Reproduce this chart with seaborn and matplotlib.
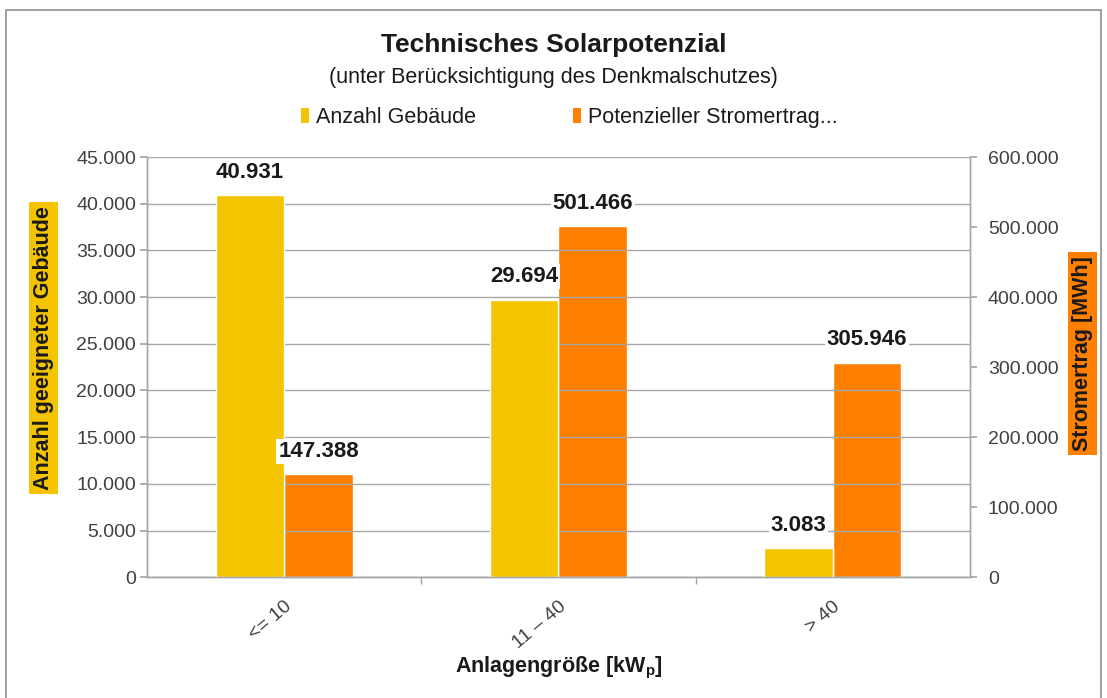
import numpy as np
import matplotlib
matplotlib.use("Agg")
import matplotlib.pyplot as plt
from matplotlib.patches import Rectangle, Patch
import pandas as pd
import seaborn as sns

categories = ["<= 10", "11 – 40", "> 40"]
anzahl_gebaeude = [40931, 29694, 3083]
stromertrag = [147388, 501466, 305946]
series = ["Anzahl Gebäude", "Potenzieller Stromertrag..."]

yellow = "#F5C400"
orange = "#FF8000"
grid_col = "#A6A6A6"
txt_col = "#404040"

sns.set_theme(style="white")
plt.rcParams["font.family"] = ["Liberation Sans", "DejaVu Sans"]
plt.rcParams["mathtext.default"] = "regular"


def fmt(v):
    return f"{v:,.0f}".replace(",", ".")


df = pd.DataFrame({
    "Kategorie": categories * 2,
    "Wert": anzahl_gebaeude + stromertrag,
    "Serie": [series[0]] * 3 + [series[1]] * 3,
})

fig = plt.figure(figsize=(11.07, 6.98), dpi=100)
ax = fig.add_axes([0.133, 0.173, 0.743, 0.602])
ax2 = ax.twinx()

palette = {series[0]: yellow, series[1]: orange}
for a, s in ((ax, series[0]), (ax2, series[1])):
    sns.barplot(data=df[df["Serie"] == s], x="Kategorie", y="Wert", hue="Serie",
                hue_order=series, order=categories, palette=palette, width=0.5,
                dodge=True, saturation=1, ax=a, legend=False,
                edgecolor="white", linewidth=1)

ax.set_ylim(0, 45000)
ax2.set_ylim(0, 600000)
ax.set_xlim(-0.5, 2.5)
ax.set_yticks(np.arange(0, 45001, 5000))
ax2.set_yticks(np.arange(0, 600001, 100000))
ax.set_yticklabels([fmt(v) for v in ax.get_yticks()], color=txt_col, fontsize=14)
ax2.set_yticklabels([fmt(v) for v in ax2.get_yticks()], color=txt_col, fontsize=14)

ax.grid(axis="y", color=grid_col, linewidth=1)
ax.set_axisbelow(True)
ax2.grid(False)
ax.set_zorder(ax2.get_zorder() + 1)
ax.patch.set_visible(False)

for a in (ax, ax2):
    for s in ["left", "right", "bottom"]:
        a.spines[s].set_color(grid_col)
        a.spines[s].set_linewidth(1)
    a.spines["top"].set_visible(False)
ax.tick_params(axis="y", left=True, length=5, color=grid_col, pad=3)
ax2.tick_params(axis="y", right=True, length=5, color=grid_col, pad=8)

ax.set_xticks(range(3))
ax.set_xticklabels(categories, rotation=40, ha="right", rotation_mode="anchor",
                   fontsize=14, color=txt_col)
ax.tick_params(axis="x", bottom=False, pad=9)
ax.set_xticks([0.5, 1.5], minor=True)
ax.tick_params(axis="x", which="minor", bottom=True, length=5, color=grid_col)

ax.set_xlabel("Anlagengröße [kW$_p$]", fontsize=15.5, fontweight="bold",
              labelpad=2, color="#1a1a1a")
ax.set_ylabel("Anzahl geeigneter Gebäude", fontsize=15.5, fontweight="bold",
              color="#1a1a1a", bbox=dict(facecolor=yellow, edgecolor="none", pad=3))
ax2.set_ylabel("Stromertrag [MWh]", fontsize=15.5, fontweight="bold", rotation=90,
               color="#1a1a1a", bbox=dict(facecolor=orange, edgecolor="none", pad=3))
ax.yaxis.set_label_coords(-0.113, 0.545)
ax2.yaxis.set_label_coords(1.124, 0.533)

# data labels, all drawn on the top axes so the white boxes overlap the bars
for a in (ax, ax2):
    for cont in a.containers:
        for bar in cont:
            h = bar.get_height()
            if np.isnan(h):
                continue
            ax.annotate(fmt(h), (bar.get_x() + bar.get_width() / 2, h),
                        xycoords=a.transData, xytext=(0, 23),
                        textcoords="offset pixels", ha="center", va="center",
                        fontsize=16, fontweight="bold", color="#1a1a1a", zorder=5,
                        bbox=dict(facecolor="white", edgecolor="none", pad=1.5))

fig.text(0.5, 0.935, "Technisches Solarpotenzial", ha="center", va="center",
         fontsize=19, fontweight="bold", color="#1a1a1a")
fig.text(0.5, 0.889, "(unter Berücksichtigung des Denkmalschutzes)", ha="center",
         va="center", fontsize=15.5, color="#1a1a1a")

handles = [Patch(facecolor=yellow, edgecolor="none"), Patch(facecolor=orange, edgecolor="none")]
fig.legend(handles, series, loc="center", bbox_to_anchor=(0.514, 0.832), ncol=2,
           frameon=False, fontsize=15.5, handlelength=0.4, handleheight=0.7,
           handletextpad=0.3, columnspacing=4.5, labelcolor="#1a1a1a")

fig.patches.append(Rectangle((0.005, -0.01), 0.99, 0.995, transform=fig.transFigure,
                             fill=False, edgecolor="#909090", linewidth=1.2))

fig.savefig("out.png", dpi=100, facecolor="white")
